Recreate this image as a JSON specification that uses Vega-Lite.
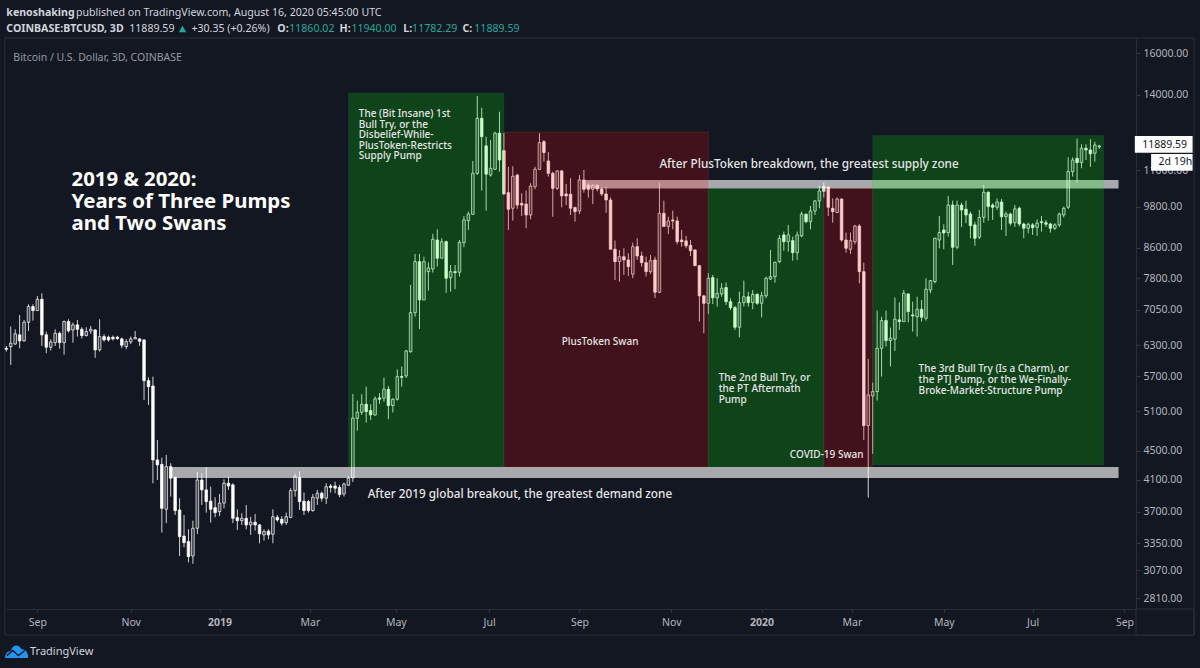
{
"$schema":"https://vega.github.io/schema/vega-lite/v6.json",
"width":1130,"height":571,
"autosize":{"type":"none"},
"padding":{"left":6,"top":38,"right":64,"bottom":59},
"background":"#131722",
"config":{"view":{"stroke":null},"font":"Noto Sans"},
"datasets":{
"bars":[
{"d":"2018-08-11","o":6237,"h":6283,"l":6171,"c":6217},
{"d":"2018-08-14","o":6270,"h":6684,"l":5915,"c":6337},
{"d":"2018-08-17","o":6323,"h":6626,"l":6303,"c":6530},
{"d":"2018-08-20","o":6510,"h":6936,"l":6237,"c":6385},
{"d":"2018-08-23","o":6385,"h":6827,"l":6371,"c":6776},
{"d":"2018-08-26","o":6776,"h":7176,"l":6591,"c":7124},
{"d":"2018-08-29","o":7124,"h":7176,"l":6813,"c":7033},
{"d":"2018-09-01","o":7033,"h":7367,"l":7033,"c":7291},
{"d":"2018-09-04","o":7291,"h":7433,"l":6283,"c":6508},
{"d":"2018-09-07","o":6510,"h":6577,"l":6139,"c":6257},
{"d":"2018-09-10","o":6257,"h":6419,"l":6191,"c":6364},
{"d":"2018-09-13","o":6350,"h":6626,"l":6283,"c":6543},
{"d":"2018-09-16","o":6543,"h":6577,"l":6230,"c":6350},
{"d":"2018-09-19","o":6350,"h":6813,"l":6113,"c":6791},
{"d":"2018-09-22","o":6791,"h":6841,"l":6557,"c":6591},
{"d":"2018-09-25","o":6612,"h":6769,"l":6350,"c":6720},
{"d":"2018-09-28","o":6720,"h":6827,"l":6474,"c":6626},
{"d":"2018-10-01","o":6626,"h":6669,"l":6433,"c":6495},
{"d":"2018-10-04","o":6495,"h":6669,"l":6474,"c":6577},
{"d":"2018-10-07","o":6591,"h":6698,"l":6530,"c":6626},
{"d":"2018-10-10","o":6612,"h":6626,"l":6048,"c":6204},
{"d":"2018-10-13","o":6204,"h":6841,"l":6171,"c":6474},
{"d":"2018-10-16","o":6474,"h":6523,"l":6371,"c":6405},
{"d":"2018-10-19","o":6460,"h":6495,"l":6371,"c":6405},
{"d":"2018-10-22","o":6460,"h":6495,"l":6392,"c":6426},
{"d":"2018-10-25","o":6460,"h":6488,"l":6405,"c":6433},
{"d":"2018-10-28","o":6426,"h":6453,"l":6237,"c":6297},
{"d":"2018-10-31","o":6270,"h":6419,"l":6217,"c":6371},
{"d":"2018-11-03","o":6364,"h":6474,"l":6323,"c":6426},
{"d":"2018-11-06","o":6426,"h":6591,"l":6419,"c":6453},
{"d":"2018-11-09","o":6426,"h":6440,"l":6283,"c":6378},
{"d":"2018-11-12","o":6405,"h":6420,"l":5289,"c":5624},
{"d":"2018-11-15","o":5624,"h":5684,"l":5205,"c":5516},
{"d":"2018-11-18","o":5529,"h":5697,"l":4054,"c":4367},
{"d":"2018-11-21","o":4367,"h":4655,"l":4097,"c":4298},
{"d":"2018-11-24","o":4305,"h":4400,"l":3463,"c":3742},
{"d":"2018-11-27","o":3731,"h":4438,"l":3569,"c":4275},
{"d":"2018-11-30","o":4275,"h":4322,"l":3885,"c":4120},
{"d":"2018-12-03","o":4130,"h":4141,"l":3664,"c":3715},
{"d":"2018-12-06","o":3723,"h":3865,"l":3214,"c":3419},
{"d":"2018-12-09","o":3425,"h":3664,"l":3305,"c":3354},
{"d":"2018-12-12","o":3365,"h":3500,"l":3149,"c":3208},
{"d":"2018-12-15","o":3214,"h":3598,"l":3135,"c":3512},
{"d":"2018-12-18","o":3512,"h":4207,"l":3446,"c":4097},
{"d":"2018-12-21","o":4097,"h":4185,"l":3783,"c":3969},
{"d":"2018-12-24","o":3969,"h":4267,"l":3691,"c":3823},
{"d":"2018-12-27","o":3830,"h":4010,"l":3576,"c":3731},
{"d":"2018-12-30","o":3750,"h":3877,"l":3637,"c":3691},
{"d":"2019-01-02","o":3703,"h":3918,"l":3650,"c":3805},
{"d":"2019-01-05","o":3805,"h":4106,"l":3742,"c":4054},
{"d":"2019-01-08","o":4054,"h":4141,"l":3969,"c":4019},
{"d":"2019-01-11","o":4033,"h":4054,"l":3569,"c":3625},
{"d":"2019-01-14","o":3633,"h":3731,"l":3493,"c":3598},
{"d":"2019-01-17","o":3598,"h":3684,"l":3549,"c":3625},
{"d":"2019-01-20","o":3625,"h":3783,"l":3500,"c":3549},
{"d":"2019-01-23","o":3549,"h":3644,"l":3438,"c":3580},
{"d":"2019-01-26","o":3580,"h":3676,"l":3485,"c":3549},
{"d":"2019-01-29","o":3549,"h":3560,"l":3347,"c":3449},
{"d":"2019-02-01","o":3438,"h":3500,"l":3376,"c":3474},
{"d":"2019-02-04","o":3480,"h":3500,"l":3390,"c":3438},
{"d":"2019-02-07","o":3445,"h":3731,"l":3347,"c":3644},
{"d":"2019-02-10","o":3636,"h":3664,"l":3586,"c":3606},
{"d":"2019-02-13","o":3614,"h":3650,"l":3542,"c":3569},
{"d":"2019-02-16","o":3576,"h":3691,"l":3549,"c":3644},
{"d":"2019-02-19","o":3636,"h":3990,"l":3625,"c":3960},
{"d":"2019-02-22","o":3960,"h":4178,"l":3885,"c":4141},
{"d":"2019-02-25","o":4130,"h":4212,"l":3723,"c":3823},
{"d":"2019-02-28","o":3828,"h":3935,"l":3664,"c":3715},
{"d":"2019-03-03","o":3823,"h":3844,"l":3691,"c":3715},
{"d":"2019-03-06","o":3715,"h":3918,"l":3703,"c":3877},
{"d":"2019-03-09","o":3865,"h":3969,"l":3783,"c":3927},
{"d":"2019-03-12","o":3927,"h":3948,"l":3823,"c":3865},
{"d":"2019-03-15","o":3865,"h":4054,"l":3795,"c":4010},
{"d":"2019-03-18","o":4019,"h":4045,"l":3935,"c":4000},
{"d":"2019-03-21","o":4019,"h":4075,"l":3927,"c":3990},
{"d":"2019-03-24","o":4000,"h":4033,"l":3877,"c":3909},
{"d":"2019-03-27","o":3918,"h":4062,"l":3885,"c":4045},
{"d":"2019-03-30","o":4029,"h":4150,"l":4019,"c":4120},
{"d":"2019-04-02","o":4124,"h":5390,"l":4071,"c":4992},
{"d":"2019-04-05","o":4987,"h":5277,"l":4795,"c":5085},
{"d":"2019-04-08","o":5085,"h":5387,"l":5042,"c":5216},
{"d":"2019-04-11","o":5216,"h":5516,"l":4920,"c":5095},
{"d":"2019-04-14","o":5112,"h":5216,"l":4962,"c":5042},
{"d":"2019-04-17","o":5042,"h":5347,"l":5028,"c":5306},
{"d":"2019-04-20","o":5323,"h":5404,"l":5223,"c":5300},
{"d":"2019-04-23","o":5318,"h":5677,"l":5260,"c":5471},
{"d":"2019-04-26","o":5471,"h":5529,"l":4973,"c":5195},
{"d":"2019-04-29","o":5195,"h":5318,"l":5080,"c":5300},
{"d":"2019-05-02","o":5300,"h":5832,"l":5277,"c":5697},
{"d":"2019-05-05","o":5700,"h":5884,"l":5516,"c":5684},
{"d":"2019-05-08","o":5710,"h":6204,"l":5672,"c":6184},
{"d":"2019-05-11","o":6171,"h":7634,"l":6145,"c":6987},
{"d":"2019-05-14","o":6987,"h":8426,"l":6897,"c":8222},
{"d":"2019-05-17","o":8222,"h":8426,"l":6632,"c":7276},
{"d":"2019-05-20","o":7276,"h":8353,"l":7276,"c":8222},
{"d":"2019-05-23","o":7964,"h":8206,"l":7495,"c":8058},
{"d":"2019-05-26","o":8032,"h":8986,"l":7939,"c":8831},
{"d":"2019-05-29","o":8811,"h":9119,"l":8090,"c":8312},
{"d":"2019-06-01","o":8312,"h":8859,"l":8312,"c":8763},
{"d":"2019-06-04","o":8763,"h":8793,"l":7447,"c":7798},
{"d":"2019-06-07","o":7813,"h":8136,"l":7471,"c":7964},
{"d":"2019-06-10","o":7964,"h":8136,"l":7529,"c":7940},
{"d":"2019-06-13","o":7949,"h":8811,"l":7838,"c":8746},
{"d":"2019-06-16","o":8735,"h":9512,"l":8608,"c":9392},
{"d":"2019-06-19","o":9371,"h":9644,"l":9097,"c":9573},
{"d":"2019-06-22","o":9564,"h":11337,"l":9542,"c":10900},
{"d":"2019-06-25","o":10900,"h":13948,"l":10840,"c":12991},
{"d":"2019-06-28","o":12991,"h":13438,"l":10312,"c":12250},
{"d":"2019-07-01","o":11899,"h":12250,"l":9675,"c":10870},
{"d":"2019-07-04","o":10840,"h":12122,"l":10785,"c":11076},
{"d":"2019-07-07","o":11040,"h":12448,"l":11016,"c":12390},
{"d":"2019-07-10","o":12390,"h":13267,"l":10958,"c":11373},
{"d":"2019-07-13","o":11716,"h":12400,"l":10172,"c":10205},
{"d":"2019-07-16","o":10246,"h":11126,"l":9097,"c":9718},
{"d":"2019-07-19","o":9750,"h":11150,"l":9371,"c":10798},
{"d":"2019-07-22","o":10838,"h":10880,"l":9729,"c":9849},
{"d":"2019-07-25","o":9905,"h":10225,"l":9512,"c":9849},
{"d":"2019-07-28","o":9880,"h":10312,"l":9146,"c":9542},
{"d":"2019-07-31","o":9542,"h":10560,"l":9412,"c":10466},
{"d":"2019-08-03","o":10445,"h":11126,"l":10357,"c":11040},
{"d":"2019-08-06","o":11040,"h":12390,"l":11016,"c":12018},
{"d":"2019-08-09","o":12056,"h":12122,"l":11312,"c":11647},
{"d":"2019-08-12","o":11337,"h":11660,"l":10785,"c":10900},
{"d":"2019-08-15","o":10900,"h":10958,"l":9490,"c":10390},
{"d":"2019-08-18","o":10390,"h":11016,"l":10335,"c":10982},
{"d":"2019-08-21","o":10982,"h":11016,"l":9780,"c":10141},
{"d":"2019-08-24","o":10205,"h":10537,"l":9849,"c":10141},
{"d":"2019-08-27","o":10195,"h":10727,"l":9542,"c":9750},
{"d":"2019-08-30","o":9770,"h":9800,"l":9340,"c":9644},
{"d":"2019-09-02","o":9666,"h":10840,"l":9573,"c":10670},
{"d":"2019-09-05","o":10670,"h":11016,"l":10246,"c":10357},
{"d":"2019-09-08","o":10500,"h":10560,"l":10085,"c":10357},
{"d":"2019-09-11","o":10357,"h":10527,"l":9880,"c":10490},
{"d":"2019-09-14","o":10490,"h":10527,"l":10290,"c":10368},
{"d":"2019-09-17","o":10368,"h":10430,"l":10141,"c":10205},
{"d":"2019-09-20","o":10205,"h":10445,"l":9612,"c":10011},
{"d":"2019-09-23","o":10011,"h":10090,"l":8550,"c":8554},
{"d":"2019-09-26","o":8554,"h":8793,"l":7756,"c":8222},
{"d":"2019-09-29","o":8222,"h":8535,"l":7714,"c":8353},
{"d":"2019-10-02","o":8353,"h":8580,"l":7880,"c":8267},
{"d":"2019-10-05","o":8267,"h":8445,"l":7855,"c":8090},
{"d":"2019-10-08","o":7900,"h":8735,"l":7798,"c":8625},
{"d":"2019-10-11","o":8625,"h":8859,"l":8267,"c":8372},
{"d":"2019-10-14","o":8372,"h":8490,"l":8090,"c":8195},
{"d":"2019-10-17","o":8195,"h":8353,"l":7838,"c":7964},
{"d":"2019-10-20","o":7964,"h":8398,"l":7905,"c":8248},
{"d":"2019-10-23","o":8267,"h":8353,"l":7320,"c":7457},
{"d":"2019-10-26","o":7457,"h":10578,"l":7441,"c":9594},
{"d":"2019-10-29","o":9594,"h":9990,"l":9185,"c":9200},
{"d":"2019-11-01","o":9200,"h":9490,"l":8982,"c":9362},
{"d":"2019-11-04","o":9392,"h":9675,"l":9119,"c":9362},
{"d":"2019-11-07","o":9362,"h":9490,"l":8690,"c":8763},
{"d":"2019-11-10","o":8811,"h":9097,"l":8625,"c":8763},
{"d":"2019-11-13","o":8786,"h":8926,"l":8580,"c":8650},
{"d":"2019-11-16","o":8660,"h":8811,"l":8372,"c":8516},
{"d":"2019-11-19","o":8535,"h":8554,"l":8108,"c":8116},
{"d":"2019-11-22","o":8116,"h":8136,"l":6790,"c":7372},
{"d":"2019-11-25","o":7372,"h":7394,"l":6543,"c":7199},
{"d":"2019-11-28","o":7199,"h":7923,"l":6960,"c":7798},
{"d":"2019-12-01","o":7813,"h":7880,"l":7180,"c":7327},
{"d":"2019-12-04","o":7327,"h":7798,"l":7124,"c":7433},
{"d":"2019-12-07","o":7417,"h":7674,"l":7351,"c":7553},
{"d":"2019-12-10","o":7570,"h":7690,"l":7163,"c":7236},
{"d":"2019-12-13","o":7236,"h":7315,"l":7048,"c":7100},
{"d":"2019-12-16","o":7100,"h":7140,"l":6612,"c":6669},
{"d":"2019-12-19","o":6669,"h":7471,"l":6460,"c":7214},
{"d":"2019-12-22","o":7214,"h":7739,"l":7124,"c":7351},
{"d":"2019-12-25","o":7351,"h":7471,"l":7124,"c":7214},
{"d":"2019-12-28","o":7214,"h":7512,"l":7064,"c":7408},
{"d":"2019-12-31","o":7408,"h":7433,"l":7163,"c":7199},
{"d":"2020-01-03","o":7199,"h":7471,"l":6886,"c":7376},
{"d":"2020-01-06","o":7372,"h":7838,"l":7315,"c":7798},
{"d":"2020-01-09","o":7781,"h":8535,"l":7756,"c":7838},
{"d":"2020-01-12","o":7838,"h":8222,"l":7690,"c":8206},
{"d":"2020-01-15","o":8222,"h":8953,"l":8180,"c":8859},
{"d":"2020-01-18","o":8953,"h":9049,"l":8516,"c":8763},
{"d":"2020-01-21","o":8763,"h":9245,"l":8490,"c":8953},
{"d":"2020-01-24","o":8793,"h":8905,"l":8248,"c":8461},
{"d":"2020-01-27","o":8461,"h":9049,"l":8267,"c":8953},
{"d":"2020-01-30","o":8926,"h":9644,"l":8890,"c":9573},
{"d":"2020-02-02","o":9564,"h":9594,"l":9295,"c":9340},
{"d":"2020-02-05","o":9340,"h":9820,"l":9119,"c":9666},
{"d":"2020-02-08","o":9666,"h":10011,"l":9542,"c":9980},
{"d":"2020-02-11","o":9980,"h":10466,"l":9750,"c":10302},
{"d":"2020-02-14","o":10445,"h":10578,"l":10090,"c":10290},
{"d":"2020-02-17","o":10425,"h":10445,"l":9512,"c":9780},
{"d":"2020-02-20","o":9750,"h":10060,"l":9310,"c":9644},
{"d":"2020-02-23","o":9620,"h":10090,"l":9594,"c":10042},
{"d":"2020-02-26","o":10042,"h":10060,"l":8763,"c":8811},
{"d":"2020-02-29","o":8811,"h":9020,"l":8461,"c":8580},
{"d":"2020-03-03","o":8554,"h":9020,"l":8426,"c":8793},
{"d":"2020-03-06","o":8763,"h":9245,"l":8690,"c":9213},
{"d":"2020-03-09","o":9213,"h":9265,"l":7674,"c":7964},
{"d":"2020-03-12","o":7964,"h":8195,"l":4655,"c":4873},
{"d":"2020-03-15","o":4873,"h":6028,"l":3872,"c":5374},
{"d":"2020-03-18","o":5357,"h":5588,"l":4452,"c":5431},
{"d":"2020-03-21","o":5431,"h":7033,"l":5277,"c":6236},
{"d":"2020-03-24","o":6236,"h":6897,"l":5697,"c":6812},
{"d":"2020-03-27","o":6812,"h":7033,"l":6270,"c":6391},
{"d":"2020-03-30","o":6391,"h":6662,"l":5884,"c":6440},
{"d":"2020-04-02","o":6420,"h":7335,"l":6184,"c":6842},
{"d":"2020-04-05","o":6827,"h":7220,"l":6612,"c":6790},
{"d":"2020-04-08","o":6790,"h":7512,"l":6790,"c":7433},
{"d":"2020-04-11","o":7417,"h":7433,"l":6770,"c":7010},
{"d":"2020-04-14","o":6936,"h":7236,"l":6577,"c":6914},
{"d":"2020-04-17","o":6897,"h":7351,"l":6474,"c":7064},
{"d":"2020-04-20","o":7064,"h":7276,"l":6790,"c":6886},
{"d":"2020-04-23","o":6863,"h":7798,"l":6812,"c":7529},
{"d":"2020-04-26","o":7512,"h":7756,"l":7433,"c":7739},
{"d":"2020-04-29","o":7714,"h":8880,"l":7674,"c":8859},
{"d":"2020-05-02","o":8811,"h":9512,"l":8580,"c":9020},
{"d":"2020-05-05","o":9097,"h":9265,"l":8554,"c":9010},
{"d":"2020-05-08","o":9020,"h":10141,"l":8905,"c":9849},
{"d":"2020-05-11","o":9849,"h":9990,"l":8136,"c":8608},
{"d":"2020-05-14","o":8608,"h":9990,"l":8554,"c":9849},
{"d":"2020-05-17","o":9849,"h":9924,"l":9185,"c":9697},
{"d":"2020-05-20","o":9718,"h":9990,"l":9295,"c":9542},
{"d":"2020-05-23","o":9573,"h":9644,"l":8859,"c":9224},
{"d":"2020-05-26","o":9245,"h":9340,"l":8650,"c":8859},
{"d":"2020-05-29","o":8890,"h":9697,"l":8831,"c":9470},
{"d":"2020-06-01","o":9470,"h":10500,"l":9310,"c":10260},
{"d":"2020-06-04","o":10260,"h":10290,"l":9371,"c":9800},
{"d":"2020-06-07","o":9849,"h":9905,"l":9392,"c":9780},
{"d":"2020-06-10","o":9780,"h":10060,"l":9697,"c":9947},
{"d":"2020-06-13","o":9947,"h":10042,"l":9097,"c":9490},
{"d":"2020-06-16","o":9490,"h":9644,"l":8926,"c":9573},
{"d":"2020-06-19","o":9573,"h":9612,"l":9224,"c":9295},
{"d":"2020-06-22","o":9310,"h":9849,"l":9185,"c":9729},
{"d":"2020-06-25","o":9750,"h":9800,"l":9200,"c":9272},
{"d":"2020-06-28","o":9272,"h":9310,"l":8859,"c":9146},
{"d":"2020-07-01","o":9146,"h":9310,"l":9000,"c":9265},
{"d":"2020-07-04","o":9245,"h":9295,"l":8953,"c":9165},
{"d":"2020-07-07","o":9176,"h":9412,"l":8926,"c":9295},
{"d":"2020-07-10","o":9340,"h":9512,"l":9049,"c":9310},
{"d":"2020-07-13","o":9310,"h":9392,"l":9185,"c":9265},
{"d":"2020-07-16","o":9272,"h":9310,"l":9020,"c":9146},
{"d":"2020-07-19","o":9146,"h":9295,"l":9097,"c":9245},
{"d":"2020-07-22","o":9245,"h":9612,"l":9185,"c":9573},
{"d":"2020-07-25","o":9542,"h":9800,"l":9470,"c":9750},
{"d":"2020-07-28","o":9780,"h":11470,"l":9729,"c":10958},
{"d":"2020-07-31","o":10958,"h":11470,"l":10785,"c":11373},
{"d":"2020-08-03","o":11436,"h":12176,"l":10578,"c":11276},
{"d":"2020-08-06","o":11276,"h":11956,"l":11076,"c":11806},
{"d":"2020-08-09","o":11806,"h":11956,"l":11373,"c":11742},
{"d":"2020-08-12","o":11742,"h":12150,"l":11126,"c":11596},
{"d":"2020-08-15","o":11620,"h":12056,"l":11312,"c":11930},
{"d":"2020-08-18","o":11860.02,"h":11940,"l":11782.29,"c":11889.59}
]
},
"layer":[
{"data":{"values":[
  {"d":"2018-08-10","d2":"2020-10-21","p":16785,"p2":2497},
  {"d":"2020-09-11T19:00:00","d2":"2020-10-21","p":2714,"p2":2497}]},
 "mark":{"type":"rect","fillOpacity":0,"stroke":"#2a2e39","strokeWidth":1},
 "encoding":{
  "x":{"field":"d","type":"temporal","title":null,
   "scale":{"domain":[{"year":2018,"month":8,"date":10,"hours":19},{"year":2020,"month":9,"date":11,"hours":19}],"padding":0},
   "axis":{"orient":"bottom","grid":false,"title":null,"domainColor":"#2a2e39","tickColor":"#363a45","tickSize":3,"labelColor":"#b2b5be","labelFontSize":10.5,"labelPadding":5,"labelFlush":false,"labelOverlap":false,
    "values":[{"year":2018,"month":9,"date":1},{"year":2018,"month":11,"date":3},{"year":2019,"month":1,"date":2},{"year":2019,"month":3,"date":4},{"year":2019,"month":5,"date":1},{"year":2019,"month":7,"date":3},{"year":2019,"month":9,"date":2},{"year":2019,"month":11,"date":3},{"year":2020,"month":1,"date":3},{"year":2020,"month":3,"date":4},{"year":2020,"month":5,"date":5},{"year":2020,"month":7,"date":4},{"year":2020,"month":9,"date":4}],
    "labelExpr":"month(datum.value)==0 ? timeFormat(datum.value,'%Y') : timeFormat(datum.value,'%b')",
    "labelFontWeight":{"condition":{"test":"month(datum.value)==0","value":"bold"},"value":"normal"}}},
  "x2":{"field":"d2"},
  "y":{"field":"p","type":"quantitative","title":null,
   "scale":{"type":"log","domain":[2714,16785],"nice":false,"zero":false},
   "axis":{"orient":"right","grid":false,"title":null,"domainColor":"#2a2e39","tickColor":"#363a45","tickSize":4,"labelColor":"#b2b5be","labelFontSize":10.5,"labelPadding":3,"labelOverlap":false,"labelFlush":false,"format":".2f",
    "values":[16000,14000,11000,9800,8600,7800,7050,6300,5700,5100,4500,4100,3700,3350,3070,2810]}},
  "y2":{"field":"p2"}}},
{"data":{"name":"bars"},
 "mark":{"type":"rule","stroke":"#ffffff","strokeWidth":1,"opacity":0.8},
 "encoding":{"x":{"field":"d","type":"temporal"},"y":{"field":"l","type":"quantitative"},"y2":{"field":"h"}}},
{"data":{"name":"bars"},
 "mark":{"type":"bar","width":2.6,"stroke":"#ffffff","strokeWidth":0.7},
 "encoding":{"x":{"field":"d","type":"temporal"},"y":{"field":"o","type":"quantitative"},"y2":{"field":"c"},
  "fill":{"condition":{"test":"datum.c>=datum.o","value":"#3c4048"},"value":"#ffffff"}}},
{"data":{"values":[{"d":"2018-11-30","d2":"2020-08-31","p":4271,"p2":4124},{"d":"2019-09-04","d2":"2020-08-31","p":10670,"p2":10385}]},
 "mark":{"type":"rect","fill":"#ffffff","fillOpacity":0.63},
 "encoding":{"x":{"field":"d","type":"temporal"},"x2":{"field":"d2"},"y":{"field":"p","type":"quantitative"},"y2":{"field":"p2"}}},
{"data":{"values":[
  {"kind":"pump","d":"2019-03-30","d2":"2019-07-13","p":14083,"p2":4271},
  {"kind":"swan","d":"2019-07-13","d2":"2019-11-28","p":12432,"p2":4271},
  {"kind":"pump","d":"2019-11-28","d2":"2020-02-14","p":10385,"p2":4271},
  {"kind":"swan","d":"2020-02-14","d2":"2020-03-18","p":10385,"p2":4271},
  {"kind":"pump","d":"2020-03-18","d2":"2020-08-21","p":12300,"p2":4298}]},
 "mark":{"type":"rect","fillOpacity":0.2,"strokeOpacity":0.12,"strokeWidth":1},
 "encoding":{"x":{"field":"d","type":"temporal"},"x2":{"field":"d2"},"y":{"field":"p","type":"quantitative"},"y2":{"field":"p2"},
  "fill":{"field":"kind","type":"nominal","legend":null,"scale":{"domain":["pump","swan"],"range":["#00f800","#f90004"]}},
  "stroke":{"field":"kind","type":"nominal","legend":null}}},
{"data":{"values":[
  {"d":"2018-09-24","p":10670,"t":"2019 & 2020:"},
  {"d":"2018-09-24","p":9947,"t":"Years of Three Pumps"},
  {"d":"2018-09-24","p":9272,"t":"and Two Swans"}]},
 "mark":{"type":"text","align":"left","baseline":"middle","font":"Noto Sans","fontWeight":"bold","fontSize":20.4,"color":"#ffffff"},
 "encoding":{"x":{"field":"d","type":"temporal"},"y":{"field":"p","type":"quantitative"},"text":{"field":"t"}}},
{"data":{"values":[
  {"d":"2019-04-06","p":13171,"t":"The (Bit Insane) 1st"},
  {"d":"2019-04-06","p":12729,"t":"Bull Try, or the"},
  {"d":"2019-04-06","p":12325,"t":"Disbelief-While-"},
  {"d":"2019-04-06","p":11908,"t":"PlusToken-Restricts"},
  {"d":"2019-04-06","p":11506,"t":"Supply Pump"},
  {"d":"2019-08-21","p":6364,"t":"PlusToken Swan"},
  {"d":"2019-12-05","p":5673,"t":"The 2nd Bull Try, or"},
  {"d":"2019-12-05","p":5477,"t":"the PT Aftermath"},
  {"d":"2019-12-05","p":5289,"t":"Pump"},
  {"d":"2020-01-22","p":4438,"t":"COVID-19 Swan"},
  {"d":"2020-04-18","p":5839,"t":"The 3rd Bull Try (Is a Charm), or"},
  {"d":"2020-04-18","p":5637,"t":"the PTJ Pump, or the We-Finally-"},
  {"d":"2020-04-18","p":5443,"t":"Broke-Market-Structure Pump"}]},
 "mark":{"type":"text","align":"left","baseline":"middle","font":"Noto Sans","fontWeight":500,"fontSize":10,"color":"#e6e6e6"},
 "encoding":{"x":{"field":"d","type":"temporal"},"y":{"field":"p","type":"quantitative"},"text":{"field":"t"}}},
{"data":{"values":[
  {"d":"2019-10-26","p":11229,"t":"After PlusToken breakdown, the greatest supply zone"},
  {"d":"2019-04-12","p":3919,"t":"After 2019 global breakout, the greatest demand zone"}]},
 "mark":{"type":"text","align":"left","baseline":"middle","font":"Noto Sans","fontWeight":500,"fontSize":11.75,"color":"#e6e6e6"},
 "encoding":{"x":{"field":"d","type":"temporal"},"y":{"field":"p","type":"quantitative"},"text":{"field":"t"}}},
{"data":{"values":[
  {"d":"2018-08-11","p":18178,"t":"kenoshaking"},
  {"d":"2018-08-11","p":17273,"t":"COINBASE:BTCUSD, 3D"},
  {"d":"2019-02-10","p":17273,"t":"O:"},
  {"d":"2019-03-24","p":17273,"t":"H:"},
  {"d":"2019-05-06","p":17273,"t":"L:"},
  {"d":"2019-06-15","p":17273,"t":"C:"}]},
 "mark":{"type":"text","align":"left","baseline":"middle","fontWeight":"bold","fontSize":10.6,"color":"#d1d4dc"},
 "encoding":{"x":{"field":"d","type":"temporal"},"y":{"field":"p","type":"quantitative"},"text":{"field":"t"}}},
{"data":{"values":[
  {"d":"2018-09-27","p":18178,"t":"published on TradingView.com, August 16, 2020 05:45:00 UTC"},
  {"d":"2018-11-02","p":17273,"t":"11889.59"},
  {"d":"2018-12-14","p":17273,"t":"+30.35 (+0.26%)"}]},
 "mark":{"type":"text","align":"left","baseline":"middle","fontSize":10.6,"color":"#d1d4dc"},
 "encoding":{"x":{"field":"d","type":"temporal"},"y":{"field":"p","type":"quantitative"},"text":{"field":"t"}}},
{"data":{"values":[
  {"d":"2019-02-18","p":17273,"t":"11860.02"},
  {"d":"2019-04-01","p":17273,"t":"11940.00"},
  {"d":"2019-05-12","p":17273,"t":"11782.29"},
  {"d":"2019-06-23","p":17273,"t":"11889.59"}]},
 "mark":{"type":"text","align":"left","baseline":"middle","fontSize":10.6,"color":"#26a69a"},
 "encoding":{"x":{"field":"d","type":"temporal"},"y":{"field":"p","type":"quantitative"},"text":{"field":"t"}}},
{"data":{"values":[{"d":"2018-12-08","p":17273}]},
 "mark":{"type":"point","shape":"triangle-up","filled":true,"size":55,"color":"#26a69a","opacity":1},
 "encoding":{"x":{"field":"d","type":"temporal"},"y":{"field":"p","type":"quantitative"}}},
{"data":{"values":[{"d":"2018-08-11","p":15748,"t":"Bitcoin / U.S. Dollar, 3D, COINBASE"}]},
 "mark":{"type":"text","align":"left","baseline":"middle","dx":7,"fontSize":10.5,"color":"#9598a1"},
 "encoding":{"x":{"field":"d","type":"temporal"},"y":{"field":"p","type":"quantitative"},"text":{"field":"t"}}},
{"data":{"values":[
  {"d":"2020-09-11","d2":"2020-10-20","p":12277,"p2":11640},
  {"d":"2020-09-22","d2":"2020-10-20","p":11592,"p2":10990}]},
 "mark":{"type":"rect","fill":"#ffffff"},
 "encoding":{"x":{"field":"d","type":"temporal"},"x2":{"field":"d2"},"y":{"field":"p","type":"quantitative"},"y2":{"field":"p2"}}},
{"data":{"values":[{"d":"2020-09-16","p":11930,"t":"11889.59"},{"d":"2020-09-27","p":11300,"t":"2d 19h"}]},
 "mark":{"type":"text","align":"left","baseline":"middle","fontSize":10.5,"color":"#131722"},
 "encoding":{"x":{"field":"d","type":"temporal"},"y":{"field":"p","type":"quantitative"},"text":{"field":"t"}}},
{"data":{"values":[{"d":"2018-08-18","p":2369}]},
 "mark":{"type":"point","filled":true,"size":529,"opacity":1,"color":"#2196f3","shape":"M-1,0.55 C-1,0.1 -0.72,-0.05 -0.52,-0.02 C-0.38,-0.65 0.2,-0.7 0.42,-0.2 C0.78,-0.25 1,0.1 1,0.55 Z"},
 "encoding":{"x":{"field":"d","type":"temporal"},"y":{"field":"p","type":"quantitative"}}},
{"data":{"values":[{"d":"2018-08-18","p":2369}]},
 "mark":{"type":"point","filled":false,"size":529,"opacity":1,"strokeWidth":1.4,"color":"#131722","shape":"M-0.85,0.35 L-0.35,-0.1 L0.15,0.35 L0.7,-0.1"},
 "encoding":{"x":{"field":"d","type":"temporal"},"y":{"field":"p","type":"quantitative"}}},
{"data":{"values":[{"d":"2018-08-27","p":2369,"t":"TradingView"}]},
 "mark":{"type":"text","align":"left","baseline":"middle","fontSize":11,"color":"#d1d4dc"},
 "encoding":{"x":{"field":"d","type":"temporal"},"y":{"field":"p","type":"quantitative"},"text":{"field":"t"}}}
]
}
